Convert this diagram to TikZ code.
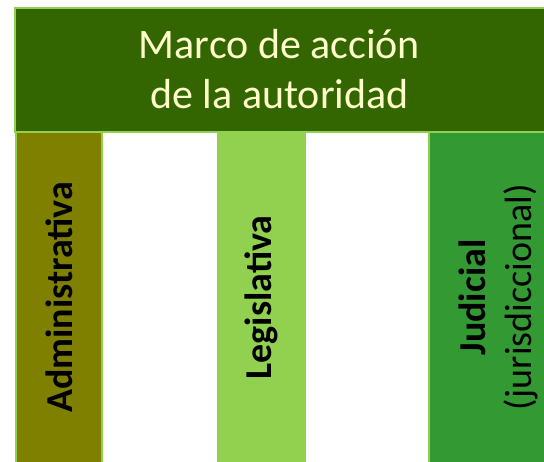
\documentclass[tikz,border=0pt]{standalone}
\usepackage{fontspec}
\setmainfont{Carlito}
\usetikzlibrary{positioning}

\definecolor{barGreen}{HTML}{336600}
\definecolor{edgeGreen}{HTML}{92D050}
\definecolor{oliveCol}{HTML}{7F7F00}
\definecolor{judGreen}{HTML}{339933}
\definecolor{paleText}{HTML}{FFFFCC}

\begin{document}
\begin{tikzpicture}[
    x = 1pt, y = -1pt,
    panel/.style = {draw=edgeGreen, line width=2pt, inner sep=0pt,
      anchor=north west},
    vlabel/.style = {rotate=90, align=center,
      font=\fontsize{38}{46}\selectfont}
    ]
    \useasboundingbox (0,0) rectangle (544,461);
    % top bar
    \node[panel, fill=barGreen, minimum width=531pt, minimum height=124pt]
      (marco) at (14,7) {};
    \node[align=center, text=paleText, font=\fontsize{42}{50}\selectfont]
      (marcotxt) at ([xshift=-1pt, yshift=1pt]marco.center)
      {Marco de acción\\de la autoridad};
    % the three columns
    \node[panel, fill=oliveCol, minimum width=86pt, minimum height=331pt]
      (admin) at (15,131) {};
    \node[panel, fill=edgeGreen, minimum width=87pt, minimum height=331pt]
      (legis) at (217,131) {};
    \node[panel, fill=judGreen, minimum width=138pt, minimum height=331pt]
      (judic) at (428,131) {};
    \node[vlabel, font=\bfseries\fontsize{38}{46}\selectfont]
      (admintxt) at (admin.center) {Administrativa};
    \node[vlabel, font=\bfseries\fontsize{38}{46}\selectfont]
      (legistxt) at (legis.center) {Legislativa};
    \node[vlabel] (judictxt) at (judic.center)
      {\textbf{Judicial}\\(jurisdiccional)};
\end{tikzpicture}
\end{document}
